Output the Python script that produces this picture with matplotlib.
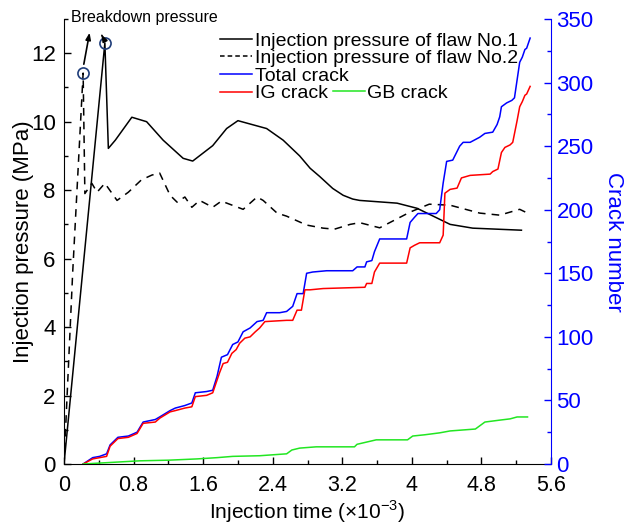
import matplotlib
matplotlib.use("Agg")
import matplotlib.pyplot as plt
from matplotlib.lines import Line2D
from matplotlib.ticker import MultipleLocator

plt.rcParams['font.family'] = ['Liberation Sans', 'DejaVu Sans']
plt.rcParams['mathtext.fontset'] = 'custom'
plt.rcParams['mathtext.rm'] = 'Liberation Sans'

# injection pressure, flaw No.1 (time x1e-3, MPa)
t1 = [0, 0.47, 0.51, 0.59, 0.78, 0.95, 1.14, 1.37, 1.48, 1.71, 1.87, 2.0, 2.33, 2.52, 2.71, 2.83,
      2.94, 3.09, 3.21, 3.32, 3.40, 3.83, 4.06, 4.44, 4.70, 5.26]
p1 = [0, 12.3, 9.22, 9.46, 10.13, 10.0, 9.46, 8.93, 8.85, 9.3, 9.8, 10.03, 9.8, 9.46, 9.0, 8.64,
      8.4, 8.05, 7.85, 7.74, 7.7, 7.62, 7.47, 7.0, 6.89, 6.83]

# injection pressure, flaw No.2
t2 = [0, 0.10, 0.22, 0.24, 0.32, 0.38, 0.47, 0.61, 0.74, 0.89, 1.01, 1.10, 1.22, 1.30, 1.39, 1.47,
      1.56, 1.71, 1.81, 2.06, 2.22, 2.29, 2.45, 2.56, 2.79, 2.98, 3.11, 3.29, 3.40, 3.63, 3.98, 4.2,
      4.44, 4.78, 5.01, 5.24, 5.33]
p2 = [0, 5.6, 11.42, 7.9, 8.2, 7.94, 8.2, 7.7, 7.94, 8.3, 8.44, 8.5, 7.85, 7.65, 7.8, 7.5,
      7.7, 7.5, 7.68, 7.44, 7.8, 7.7, 7.33, 7.24, 6.98, 6.89, 6.86, 7.0, 7.05, 6.9, 7.36, 7.59,
      7.56, 7.33, 7.27, 7.44, 7.33]

# total crack number
t_total = [0.22, 0.33, 0.41, 0.49, 0.53, 0.62, 0.74, 0.84, 0.91, 1.05, 1.10, 1.22, 1.28, 1.39, 1.47,
           1.51, 1.64, 1.71, 1.76, 1.79, 1.81, 1.88, 1.94, 2.0, 2.06, 2.14, 2.22, 2.29, 2.33, 2.48,
           2.56, 2.63, 2.68, 2.75, 2.79, 2.86, 3.02, 3.32, 3.37, 3.46, 3.48, 3.54, 3.57, 3.63, 3.94,
           3.98, 4.03, 4.07, 4.28, 4.32, 4.36, 4.40, 4.47, 4.55, 4.59, 4.67, 4.78, 4.84, 4.93, 4.98,
           5.01, 5.03, 5.09, 5.15, 5.18, 5.21, 5.24, 5.27, 5.30, 5.32, 5.36]
n_total = [0, 5, 6, 8, 15, 21, 22, 25, 33, 35, 37, 42, 44, 46, 48,
           56, 57, 58, 69, 78, 84, 86, 94, 96, 104, 107, 112, 113, 119, 119,
           120, 124, 134, 134, 150, 151, 152, 152, 155, 155, 159, 160, 167, 177, 177,
           190, 194, 197, 197, 200, 221, 238, 239, 250, 253, 253, 257, 260, 261, 267,
           273, 281, 284, 286, 288, 302, 316, 320, 326, 327, 335]

# IG crack number
t_ig = [0.22, 0.33, 0.41, 0.49, 0.53, 0.62, 0.74, 0.84, 0.91, 1.05, 1.10, 1.22, 1.28, 1.39, 1.47,
        1.51, 1.64, 1.71, 1.76, 1.79, 1.83, 1.88, 1.93, 1.98, 2.02, 2.08, 2.14, 2.20, 2.25, 2.31,
        2.56, 2.63, 2.68, 2.73, 2.77, 2.83, 2.98, 3.46, 3.48, 3.54, 3.57, 3.63, 3.94, 3.98, 4.03,
        4.09, 4.32, 4.36, 4.38, 4.44, 4.52, 4.57, 4.67, 4.90, 4.93, 4.99, 5.03, 5.07, 5.13, 5.16,
        5.21, 5.24, 5.27, 5.30, 5.32, 5.36]
n_ig = [0, 4, 5, 6, 14, 20, 21, 24, 32, 33, 36, 41, 42, 44, 45,
        53, 54, 56, 66, 72, 79, 80, 87, 90, 95, 99, 100, 104, 107, 112,
        113, 113, 121, 121, 137, 137, 138, 139, 142, 142, 151, 158, 158, 170, 172,
        174, 174, 180, 213, 216, 217, 225, 227, 228, 230, 232, 245, 249, 251, 253,
        270, 281, 285, 290, 291, 297]

# GB crack number
t_gb = [0.22, 0.87, 1.2, 1.53, 1.76, 1.94, 2.25, 2.56, 2.62, 2.71, 2.9, 3.34, 3.37, 3.59, 3.95,
        4.01, 4.15, 4.32, 4.44, 4.73, 4.78, 4.84, 5.01, 5.13, 5.21, 5.33]
n_gb = [0, 2.5, 3, 4, 5, 6, 6.5, 8, 11, 12.5, 13.5, 13.5, 15.5, 19, 19,
        22, 23, 24.5, 26, 27.5, 30, 33, 34.5, 35.5, 37, 37]

# breakdown points
t_break = [0.22, 0.47]
p_break = [11.42, 12.3]

x_ticks = [0, 0.8, 1.6, 2.4, 3.2, 4.0, 4.8, 5.6]
x_ticklabels = ['0', '0.8', '1.6', '2.4', '3.2', '4', '4.8', '5.6']

blue = '#0000ff'
lw = 1.1

fig = plt.figure(figsize=(6.24, 5.28), dpi=100)
ax = fig.add_axes([64 / 624, 64 / 528, 487 / 624, 445 / 528])
ax2 = ax.twinx()

ax2.plot(t_total, n_total, color=blue, linewidth=lw)
ax2.plot(t_ig, n_ig, color='#ff0000', linewidth=lw)
ax2.plot(t_gb, n_gb, color='#22e622', linewidth=lw)

ax.plot(t1, p1, color='black', linewidth=lw)
ax.plot(t2, p2, color='black', linewidth=lw, linestyle=(0, (5, 4)))
ax.plot(t_break, p_break, linestyle='none', marker='o', markersize=8, mfc='none',
        mec='#1f3d7a', mew=1.2)

ax.annotate('', xy=(0.30, 12.68), xytext=(0.222, 11.6),
            arrowprops=dict(arrowstyle='-|>,head_length=0.4,head_width=0.15', color='black', lw=1.2))
ax.annotate('', xy=(0.415, 12.62), xytext=(0.45, 12.45),
            arrowprops=dict(arrowstyle='-|>,head_length=0.4,head_width=0.15', color='black', lw=1.2))
ax.text(0.08, 13.05, 'Breakdown pressure', fontsize=11.5, va='center', ha='left')

ax.set_xlim(0, 5.6)
ax.set_ylim(0, 13)
ax2.set_ylim(0, 350)

ax.set_xticks(x_ticks)
ax.set_xticklabels(x_ticklabels)
ax.xaxis.set_minor_locator(MultipleLocator(0.4))
ax.yaxis.set_major_locator(MultipleLocator(2))
ax.yaxis.set_minor_locator(MultipleLocator(1))
ax2.yaxis.set_major_locator(MultipleLocator(50))
ax2.yaxis.set_minor_locator(MultipleLocator(25))

ax.tick_params(axis='x', which='major', labelsize=15.5, direction='in', length=5, width=1, pad=8)
ax.tick_params(axis='y', which='major', labelsize=16, direction='in', length=5, width=1, pad=6)
ax.tick_params(axis='both', which='minor', direction='in', length=3, width=1)
ax2.tick_params(axis='y', which='major', labelsize=16, direction='in', length=5, width=1,
                colors=blue, pad=4)
ax2.tick_params(axis='y', which='minor', direction='in', length=3, width=1, colors=blue)

for a in (ax, ax2):
    a.spines['top'].set_visible(False)
ax2.spines['left'].set_visible(False)
ax2.spines['bottom'].set_visible(False)
ax.spines['right'].set_visible(False)
ax2.spines['right'].set_color(blue)

ax.set_xlabel('Injection time (\u00d710$^{-3}$)', fontsize=15, labelpad=2)
ax.set_ylabel('Injection pressure (MPa)', fontsize=16, labelpad=-2)
ax2.set_ylabel('Crack number', fontsize=16, color=blue, rotation=270, labelpad=22)

h1 = Line2D([], [], color='black', linewidth=lw)
h2 = Line2D([], [], color='black', linewidth=lw, linestyle=(0, (3, 2)))
h3 = Line2D([], [], color=blue, linewidth=lw)
h4 = Line2D([], [], color='#ff0000', linewidth=lw)
h5 = Line2D([], [], color='#22e622', linewidth=lw)

leg1 = ax2.legend([h1, h2, h3, h4],
                  ['Injection pressure of flaw No.1', 'Injection pressure of flaw No.2',
                   'Total crack', 'IG crack'],
                  loc='upper left', bbox_to_anchor=(0.32, 0.971), frameon=False, fontsize=14,
                  handlelength=1.65, handletextpad=0.15, labelspacing=0.0, borderpad=0,
                  borderaxespad=0)
ax2.add_artist(leg1)
ax2.legend([h5], ['GB crack'], loc='center left', bbox_to_anchor=(0.552, 0.834), frameon=False,
           fontsize=14, handlelength=1.65, handletextpad=0.1, borderpad=0, borderaxespad=0)

plt.savefig('out.png', dpi=100)
